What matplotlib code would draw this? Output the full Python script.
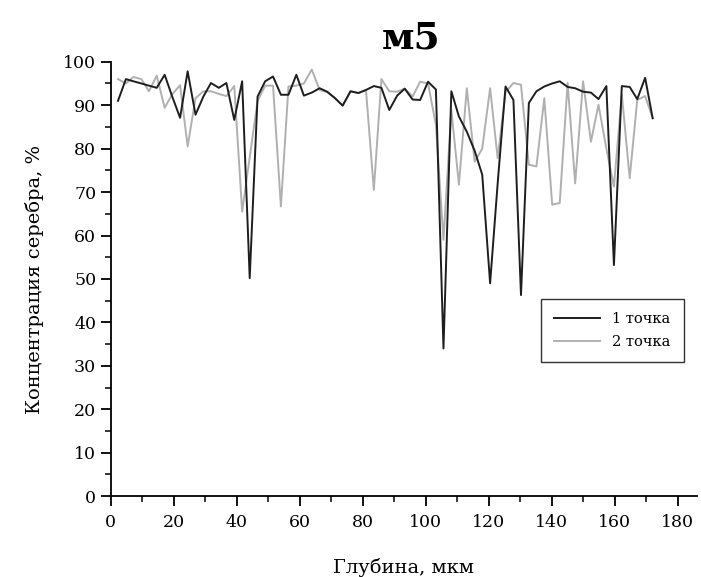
# -*- coding: utf-8 -*-
# Silver concentration vs depth, sample m5

import matplotlib
matplotlib.use("Agg")
import matplotlib.pyplot as plt
from matplotlib.ticker import MultipleLocator

# depth grid (um)
depth = [2.3, 4.8, 7.2, 9.7, 12.1, 14.6, 17.1, 19.5, 22.0, 24.4,
         26.9, 29.4, 31.8, 34.3, 36.7, 39.2, 41.7, 44.1, 46.6, 49.0,
         51.5, 54.0, 56.4, 58.9, 61.3, 63.8, 66.3, 68.7, 71.2, 73.6,
         76.1, 78.6, 81.0, 83.5, 85.9, 88.4, 90.9, 93.3, 95.8, 98.2,
         100.7, 103.2, 105.6, 108.1, 110.5, 113.0, 115.5, 117.9, 120.4, 122.8,
         125.3, 127.8, 130.2, 132.7, 135.1, 137.6, 140.1, 142.5, 145.0, 147.4,
         149.9, 152.4, 154.8, 157.3, 159.7, 162.2, 164.7, 167.1, 169.6, 172.0]

# point 1
ag_1 = [91, 96, 95.5, 95, 94.5, 94, 97, 92, 87.1, 97.8,
        87.8, 92, 95.1, 94, 95.1, 86.6, 95.5, 50.2, 92, 95.5,
        96.6, 92.4, 92.4, 97.0, 92.2, 92.9, 93.9, 93.1, 91.6, 89.9,
        93.2, 92.8, 93.5, 94.4, 94.0, 88.9, 92.2, 93.8, 91.3, 91.2,
        95.4, 93.6, 34, 93.2, 87.4, 83.9, 79.5, 74.0, 49.0, 72,
        94.3, 91.2, 46.3, 90.5, 93.2, 94.3, 95.0, 95.5, 94.2, 93.9,
        93.1, 92.9, 91.4, 94.4, 53.2, 94.4, 94.2, 91.4, 96.3, 87.0]

# point 2
ag_2 = [96, 95, 96.5, 96, 93.2, 96.8, 89.4, 92.5, 94.6, 80.5,
        91.6, 93.2, 93.2, 92.6, 92.1, 94.4, 65.5, 78, 91.0, 94.5,
        94.5, 66.7, 94.3, 94.5, 95, 98.2, 93.5, 93, 91.6, 89.9,
        93.2, 92.8, 93.5, 70.5, 96, 93.2, 93.1, 93.8, 92, 95.4,
        95.0, 85.5, 59.0, 88.9, 71.7, 93.9, 77.0, 80, 93.9, 77.8,
        93.0, 95.1, 94.7, 76.3, 75.9, 91.6, 67.1, 67.5, 95.1, 72.0,
        95.5, 81.6, 90.1, 80, 71.3, 92.5, 73.2, 91.2, 92.1, 87.0]

plt.rcParams['font.family'] = ['DejaVu Serif']

fig = plt.figure(figsize=(7.01, 5.77), dpi=100)
ax = fig.add_axes([0.158, 0.140, 0.836, 0.753])

ax.plot(depth, ag_1, color="#1e1e1e", lw=1.4, label="1 точка", zorder=3)
ax.plot(depth, ag_2, color="#b0b0b0", lw=1.4, label="2 точка", zorder=2)

ax.set_xlim(0, 186)
ax.set_ylim(0, 100)
ax.xaxis.set_major_locator(MultipleLocator(20))
ax.xaxis.set_minor_locator(MultipleLocator(10))
ax.yaxis.set_major_locator(MultipleLocator(10))
ax.yaxis.set_minor_locator(MultipleLocator(5))
ax.tick_params(which="major", direction="out", length=7, width=1.3, labelsize=12.5)
ax.tick_params(axis="x", which="major", pad=6)
ax.tick_params(which="minor", direction="out", length=4, width=1.1)
ax.spines["top"].set_visible(False)
ax.spines["right"].set_visible(False)
ax.spines["left"].set_linewidth(1.3)
ax.spines["bottom"].set_linewidth(1.3)

ax.set_xlabel("Глубина, мкм", fontsize=14, labelpad=19)
ax.set_ylabel("Концентрация серебра, %", fontsize=14, labelpad=14)

leg = ax.legend(loc="upper right", bbox_to_anchor=(0.99, 0.47), fontsize=10.5,
                fancybox=False, edgecolor="black", handlelength=3.2, borderpad=0.9,
                labelspacing=0.6)
leg.get_frame().set_linewidth(1.0)

fig.text(0.586, 0.935, "м5", fontsize=27, fontweight="bold", ha="center", va="center")

plt.savefig("out.png", dpi=100)
